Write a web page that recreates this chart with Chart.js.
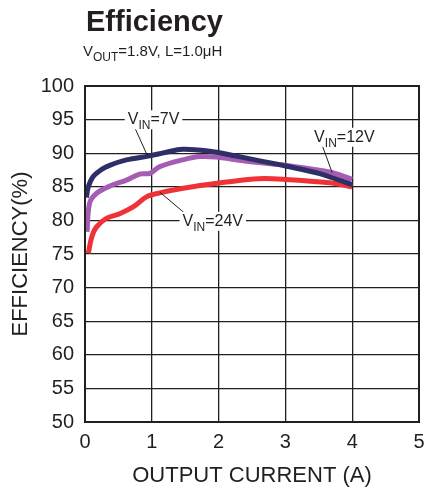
<!DOCTYPE html>
<html>
<head>
<meta charset="utf-8">
<script src="https://cdn.jsdelivr.net/npm/chart.js@4"></script>
<style>
  html, body { margin: 0; padding: 0; background: #fff; }
  #wrap { width: 433px; height: 489px; }
</style>
</head>
<body>
<div id="wrap"><canvas id="eff" width="433" height="489"></canvas></div>
<script>
// ─── data ────────────────────────────────────────────────────────
const current7  = [0.02, 0.05, 0.12, 0.25, 0.37, 0.62, 0.97, 1.2, 1.46, 1.87, 2.2, 2.6, 3.0, 3.5, 4.0];
const eff7      = [83.4, 85.0, 86.5, 87.6, 88.2, 89.0, 89.6, 90.1, 90.6, 90.3, 89.7, 88.9, 88.1, 87.0, 85.3];

const current12 = [0.03, 0.07, 0.17, 0.37, 0.62, 0.82, 0.97, 1.12, 1.46, 1.72, 2.0, 2.2, 2.6, 3.0, 3.66, 4.0];
const eff12     = [78.3, 82.6, 84.0, 85.1, 86.0, 86.9, 87.0, 88.0, 89.0, 89.5, 89.4, 89.1, 88.6, 88.2, 87.2, 86.1];

const current24 = [0.05, 0.1, 0.17, 0.32, 0.52, 0.72, 0.92, 1.12, 1.61, 2.12, 2.6, 3.0, 3.66, 4.0];
const eff24     = [75.1, 77.5, 79.0, 80.3, 81.0, 82.0, 83.5, 84.1, 85.0, 85.7, 86.2, 86.1, 85.6, 85.0];

const xTicks = [0, 1, 2, 3, 4, 5];
const yTicks = [50, 55, 60, 65, 70, 75, 80, 85, 90, 95, 100];

// curve labels: text sub-script, suffix, where the label sits and the leader line (data units)
const curveLabels = [
  { sub: "IN", rest: "=7V",  at: [0.64, 94.3], from: [0.75, 93.7], to: [0.94, 89.5] },
  { sub: "IN", rest: "=24V", at: [1.46, 79.2], from: [1.49, 81.1], to: [1.12, 84.2] },
  { sub: "IN", rest: "=12V", at: [3.43, 91.7], from: [3.55, 91.2], to: [3.70, 87.1] }
];

const INK  = "#231f20";
const FONT = "'Liberation Sans', Arial, sans-serif";

function toPts(xs, ys) {
  return xs.map((x, i) => ({ x, y: ys[i] }));
}

// draws "V" + subscript + rest, returns total width
function drawSubText(ctx, x, y, main, sub, rest, size, subSize, measureOnly) {
  ctx.font = `${size}px ${FONT}`;
  const w1 = ctx.measureText(main).width;
  const w3 = ctx.measureText(rest).width;
  ctx.font = `${subSize}px ${FONT}`;
  const w2 = ctx.measureText(sub).width;
  if (!measureOnly) {
    ctx.textBaseline = "alphabetic";
    ctx.textAlign = "left";
    ctx.font = `${size}px ${FONT}`;
    ctx.fillText(main, x, y);
    ctx.font = `${subSize}px ${FONT}`;
    ctx.fillText(sub, x + w1, y + size * 0.3);
    ctx.font = `${size}px ${FONT}`;
    ctx.fillText(rest, x + w1 + w2, y);
  }
  return w1 + w2 + w3;
}

// ─── plugin: frame, headings, curve labels ───────────────────────
const decorations = {
  id: "decorations",
  afterDatasetsDraw(chart) {
    const { ctx, chartArea: a, scales } = chart;
    const sx = v => scales.x.getPixelForValue(v);
    const sy = v => scales.y.getPixelForValue(v);

    ctx.save();
    // plot frame
    ctx.strokeStyle = INK;
    ctx.lineWidth = 2;
    ctx.strokeRect(a.left, a.top, a.right - a.left, a.bottom - a.top);

    // curve labels with white boxes + leader lines
    ctx.fillStyle = INK;
    curveLabels.forEach(l => {
      ctx.strokeStyle = INK;
      ctx.lineWidth = 1;
      ctx.beginPath();
      ctx.moveTo(sx(l.from[0]), sy(l.from[1]));
      ctx.lineTo(sx(l.to[0]), sy(l.to[1]));
      ctx.stroke();

      const x = sx(l.at[0]), y = sy(l.at[1]);
      const w = drawSubText(ctx, x, y, "V", l.sub, l.rest, 16, 12, true);
      ctx.fillStyle = "#fff";
      ctx.fillRect(x - 3, y - 14, w + 6, 19);
      ctx.fillStyle = INK;
      drawSubText(ctx, x, y, "V", l.sub, l.rest, 16, 12, false);
    });

    // headings
    ctx.fillStyle = INK;
    ctx.textAlign = "left";
    ctx.textBaseline = "alphabetic";
    ctx.font = `bold 29px ${FONT}`;
    ctx.fillText("Efficiency", 86, 31);
    drawSubText(ctx, 83, 56, "V", "OUT", "=1.8V, L=1.0\u03bcH", 15, 12, false);
    ctx.restore();
  }
};

new Chart(document.getElementById("eff"), {
  type: "line",
  data: {
    datasets: [
      { label: "VIN=7V",  data: toPts(current7, eff7),   borderColor: "#2d2f66", borderWidth: 5, tension: 0.35, pointRadius: 0 },
      { label: "VIN=12V", data: toPts(current12, eff12), borderColor: "#a45db3", borderWidth: 5, tension: 0.35, pointRadius: 0 },
      { label: "VIN=24V", data: toPts(current24, eff24), borderColor: "#ee3238", borderWidth: 5, tension: 0.35, pointRadius: 0 }
    ]
  },
  options: {
    responsive: false,
    animation: false,
    devicePixelRatio: 1,
    layout: { padding: { top: 86, right: 14, left: 0, bottom: 0 } },
    plugins: { legend: { display: false }, tooltip: { enabled: false } },
    scales: {
      x: {
        type: "linear",
        min: 0, max: 5,
        afterBuildTicks: s => { s.ticks = xTicks.map(v => ({ value: v })); },
        afterFit: s => { s.height = 67; },
        grid: { color: INK, lineWidth: 1.3, drawTicks: false },
        border: { display: false },
        ticks: { color: INK, font: { family: FONT, size: 20 }, padding: 8 },
        title: { display: true, text: "OUTPUT CURRENT (A)", color: INK, font: { family: FONT, size: 22 }, padding: { top: 2, bottom: 0 } }
      },
      y: {
        min: 50, max: 100,
        afterBuildTicks: s => { s.ticks = yTicks.map(v => ({ value: v })); },
        afterFit: s => { s.width = 85; },
        grid: { color: INK, lineWidth: 1.3, drawTicks: false },
        border: { display: false },
        ticks: { color: INK, font: { family: FONT, size: 20 }, padding: 11 },
        title: { display: true, text: "EFFICIENCY(%)", color: INK, font: { family: FONT, size: 22 }, padding: { top: 8, bottom: 0 } }
      }
    }
  },
  plugins: [decorations]
});
</script>
</body>
</html>
